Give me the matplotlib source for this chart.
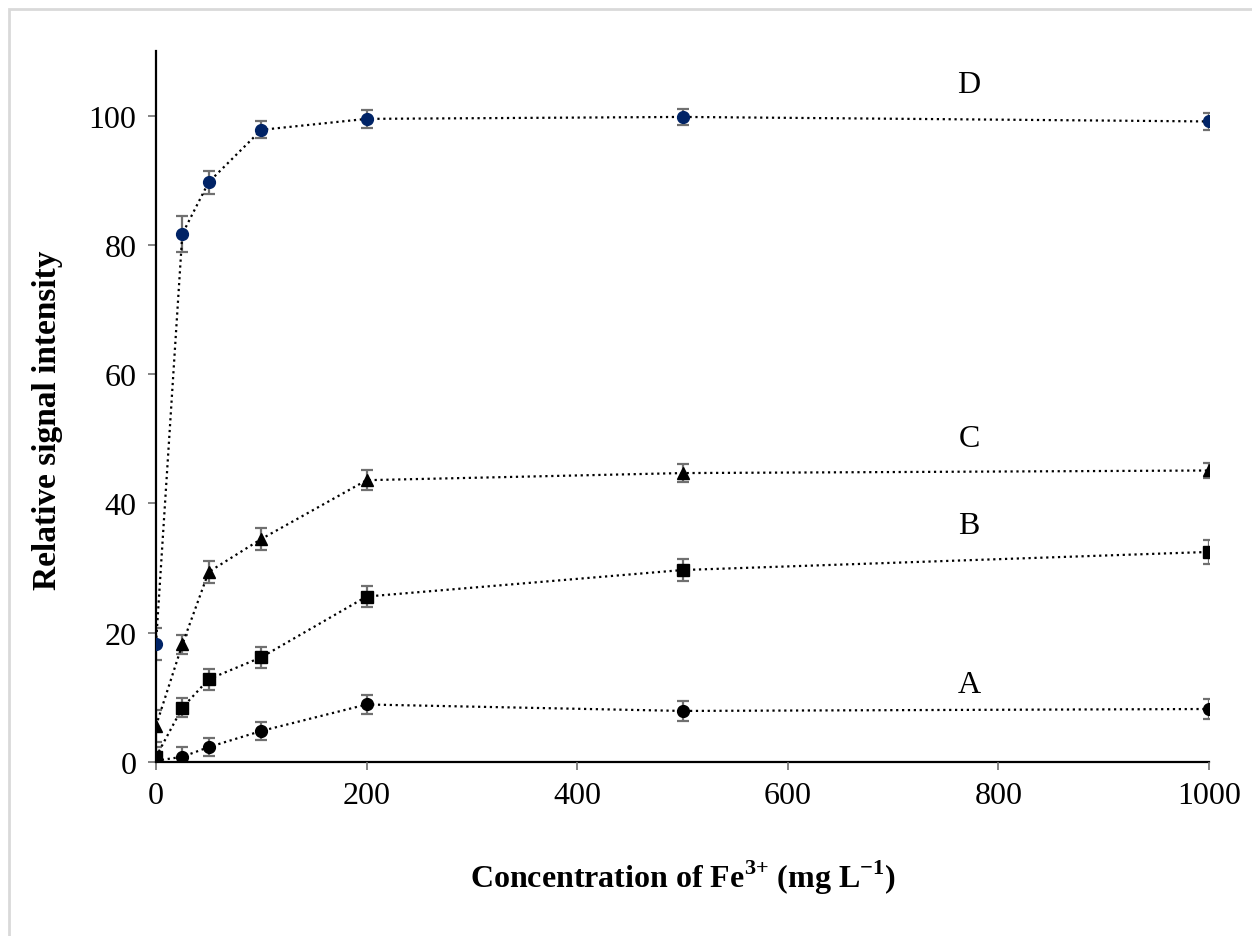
import numpy as np
import matplotlib.pyplot as plt
from matplotlib.patches import Rectangle

plt.rcParams['font.family'] = ['Liberation Serif', 'DejaVu Serif']
plt.rcParams['mathtext.fontset'] = 'custom'
plt.rcParams['mathtext.rm'] = 'Liberation Serif'
plt.rcParams['mathtext.bf'] = 'Liberation Serif:bold'

# Konsentrasi Fe3+ (mg/L)
conc = [0, 25, 50, 100, 200, 500, 1000]

# Intensitas sinyal relatif tiap seri dan galatnya
a_val = [0.2, 0.8, 2.3, 4.8, 8.9, 7.9, 8.2]
a_err = [1.2, 1.5, 1.4, 1.4, 1.5, 1.5, 1.5]
b_val = [0.8, 8.4, 12.8, 16.2, 25.6, 29.7, 32.5]
b_err = [1.5, 1.5, 1.6, 1.6, 1.6, 1.7, 1.9]
c_val = [5.6, 18.2, 29.4, 34.5, 43.6, 44.7, 45.1]
c_err = [2.5, 1.5, 1.7, 1.7, 1.5, 1.4, 1.2]
d_val = [18.3, 81.7, 89.7, 97.8, 99.5, 99.8, 99.1]
d_err = [2.5, 2.8, 1.8, 1.3, 1.4, 1.3, 1.3]

labels = ['A', 'B', 'C', 'D']
label_pos = [(772, 12), (772, 36.6), (772, 50), (772, 104.8)]

fig = plt.figure(figsize=(12.52, 9.37), dpi=100)
ax = fig.add_axes([0.1246, 0.1857, 0.8411, 0.7588])

series = [
    (a_val, a_err, 'o', 'black', 8.5),
    (b_val, b_err, 's', 'black', 8),
    (c_val, c_err, '^', 'black', 8.5),
    (d_val, d_err, 'o', '#002366', 8.5),
]
for vals, errs, mk, col, ms in series:
    ax.errorbar(conc, vals, yerr=errs, fmt='none', ecolor='#707070',
                elinewidth=1.6, capsize=4.5, capthick=1.6, zorder=2)
    ax.plot(conc, vals, linestyle=':', color='black', linewidth=1.6,
            marker=mk, markersize=ms, markerfacecolor=col,
            markeredgecolor=col, zorder=3)

for lab, (lx, ly) in zip(labels, label_pos):
    ax.text(lx, ly, lab, fontsize=23, ha='center', va='center')

ax.set_xlim(0, 1000)
ax.set_ylim(0, 110)
ax.set_xticks([0, 200, 400, 600, 800, 1000])
ax.set_yticks([0, 20, 40, 60, 80, 100])
ax.tick_params(axis='both', labelsize=23, direction='out', length=6,
               width=1.2, color='#707070')
ax.tick_params(axis='x', pad=8)
ax.tick_params(axis='y', pad=8)
for s in ['top', 'right']:
    ax.spines[s].set_visible(False)
for s in ['left', 'bottom']:
    ax.spines[s].set_linewidth(1.6)
ax.spines['bottom'].set_zorder(1)

ax.set_xlabel(r'Concentration of Fe$^{\mathbf{3{+}}}$ (mg L$^{\mathbf{{-}1}}$)',
              fontsize=23, fontweight='bold', labelpad=34)
ax.set_ylabel('Relative signal intensity', fontsize=24, fontweight='bold')
ax.yaxis.set_label_coords(-0.088, 0.482)

# bingkai abu-abu tipis di sekeliling gambar
fig.add_artist(Rectangle((9 / 1252, -0.1), 1.2, 1.1 - 10 / 937,
                         transform=fig.transFigure, fill=False,
                         edgecolor='#D9D9D9', linewidth=2))

plt.savefig('out.png', dpi=100)
